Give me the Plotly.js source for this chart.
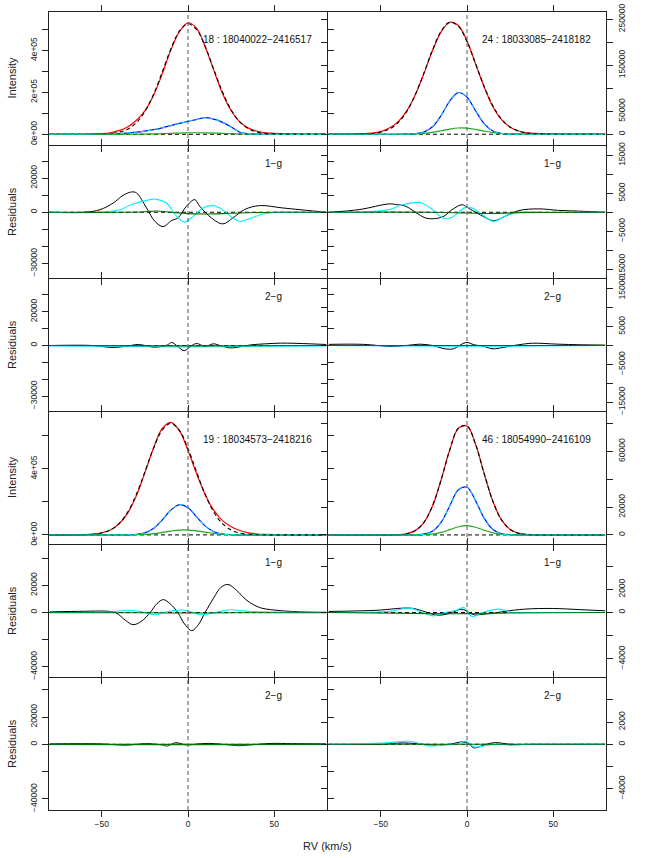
<!DOCTYPE html>
<html><head><meta charset="utf-8">
<script src="https://cdn.plot.ly/plotly-3.0.1.min.js"></script>
<style>html,body{margin:0;padding:0;background:#fff}</style>
</head><body>
<div id="chart" style="width:654px;height:858px"></div>
<script>
// ---------- DATA ----------
const rv = [-80,-75,-70,-65,-60,-55,-50,-45,-40,-35,-30,-25,-20,-15,-10,-5,0,5,10,15,20,25,30,35,40,45,50,55,60,65,70,75,80];

// Star 18 : 18040022-2416517 (intensity)
const s18_red   = [0,0,0,0,100,1000,3000,7500,17200,35200,65500,111800,185100,286800,400000,489000,531500,505400,416600,303400,194500,112200,59100,29400,14400,7300,3950,2800,2100,1500,1000,600,200];
const s18_fit   = [0,0,0,0,65,270,1000,3250,9400,24000,54100,107800,189600,295000,405200,491500,527000,498900,417600,308400,201300,116200,59100,26600,10600,3700,1150,320,80,0,0,0,0];
const s18_blue  = [0,0,0,0,200,500,1000,2000,3500,6000,10000,15500,22000,31000,41500,52000,61000,71000,79500,72000,57000,35000,10000,2500,600,100,0,0,0,0,0,0,0];
const s18_green = [0,0,0,0,0,0,0,0,80,210,500,1000,1870,3080,4550,6000,7100,7500,7100,6000,4550,3080,1870,1000,500,210,80,0,0,0,0,0,0];

// Star 24 : 18033085-2418182 (intensity)
const s24_red   = [100,200,400,700,1200,2500,5800,13400,26800,50400,85500,131400,181400,222500,243700,236500,202600,152900,102200,59800,31600,15100,7000,3140,1710,1100,800,500,300,200,100,0,0];
const s24_fit   = [0,0,0,140,500,1600,4470,11200,24800,48900,85500,132700,183000,224000,243400,234900,201300,153100,103400,62000,33000,15600,6540,2440,810,240,60,0,0,0,0,0,0];
const s24_blue  = [0,0,0,0,0,0,0,0,13,130,910,4560,16200,40700,72200,90700,80600,50700,22600,7100,1580,250,30,0,0,0,0,0,0,0,0,0,0];
const s24_green = [0,0,0,0,0,0,0,0,50,200,690,1870,4180,7600,11300,13570,13290,10600,6860,3620,1550,540,150,40,0,0,0,0,0,0,0,0,0];

// Star 19 : 18034573-2418216 (intensity)
const s19_red   = [500,600,770,1100,2050,4850,12400,30100,66000,130500,234800,375300,525500,642700,681000,631300,511000,369300,243500,148000,86500,49900,26400,12850,5650,3300,2070,1300,800,500,300,200,100];
const s19_fit   = [0,0,70,300,1150,3850,11400,29600,68000,137000,243300,380300,523000,633300,675000,633300,523000,380300,243300,137000,68000,29600,11400,3850,1150,300,70,0,0,0,0,0,0];
const s19_blue  = [0,0,0,0,0,0,0,0,70,520,3000,12800,39300,89500,149500,183300,165000,109200,53000,18900,4950,960,140,0,0,0,0,0,0,0,0,0,0];
const s19_green = [0,0,0,0,0,0,0,0,80,330,1180,3370,7860,14900,23000,28900,29500,24500,16500,9100,4060,1470,440,100,0,0,0,0,0,0,0,0,0];

// Star 46 : 18054990-2416109 (intensity)
const s46_red   = [0,0,0,0,0,0,0,40,200,880,3100,8900,20800,39500,61000,76600,78200,64900,43800,24100,10800,3900,1150,280,60,0,0,0,0,0,0,0,0];
const s46_blue  = [0,0,0,0,0,0,0,0,0,6,70,530,2650,9000,20800,32500,34300,24500,11900,3880,860,130,15,0,0,0,0,0,0,0,0,0,0];
const s46_green = [0,0,0,0,0,0,0,0,0,0,20,170,640,1800,3800,5900,6700,5560,3400,1520,500,120,20,0,0,0,0,0,0,0,0,0,0];

// Residuals, star 18, 1-g
const r18a_black_x = [-80,-60,-51,-43.3,-37.6,-32.7,-29.8,-24,-19.2,-14.4,-9.6,-5.8,-0.9,3.9,6.8,13.5,20.2,26,32.8,41.4,55,74,80];
const r18a_black_y = [0,0,1500,5400,9900,11900,11300,2500,-5300,-8400,-4900,-3300,3500,7400,3500,-3300,-6800,-3300,1600,3900,2500,600,0];
const r18a_cyan_x  = [-80,-50,-39,-32,-22,-18.6,-12.5,-6.7,-1.9,3,8.7,13.5,18.4,26,29.9,35.7,43.4,52,80];
const r18a_cyan_y  = [0,0,1600,4800,7400,7700,5400,-2300,-5800,-2300,2500,3900,2500,-3300,-5300,-3700,-1000,0,0];
const r18a_green_x = [-80,-40,-25,-18,-10,0,10,20,30,50,80];
const r18a_green_y = [0,0,300,700,0,-800,-1000,-800,-400,0,0];
// Residuals, star 18, 2-g
const r18b_black_x = [-80,-55,-43.4,-35,-28.8,-24,-20.4,-16.8,-12,-9.5,-6,-2.2,1.5,5,9.9,14.7,19,24.5,30,36.6,45,53.5,62,70.5,80];
const r18b_black_y = [0,0,-1200,-300,600,-200,-1000,-800,300,1800,-500,-3100,-500,1200,-600,1000,-200,-1400,-800,400,1000,1400,1300,1000,600];
const r18b_cyan_x  = [-80,-40,-20,0,20,40,80];
const r18b_cyan_y  = [-200,-400,-700,-800,-700,-400,-200];
const r18b_green_x = [-80,0,80];
const r18b_green_y = [0,-200,0];

// Residuals, star 24, 1-g
const r24a_black_x = [-80,-62.5,-45.2,-40.4,-35.5,-29.8,-24,-18.2,-13.4,-8.6,-2.8,0.1,6.8,15.5,22.3,30,41.5,53,65,80];
const r24a_black_y = [0,700,2200,2000,1600,0,-1500,-1650,-1050,700,2000,1300,-450,-2200,-1000,450,900,500,300,0];
const r24a_cyan_x  = [-80,-62.5,-45.2,-37.4,-29,-26.1,-20,-13.4,-8.6,-0.9,3,8.6,15.5,22.3,30,50,80];
const r24a_cyan_y  = [0,0,700,2000,2600,2450,700,-1650,-1300,1300,1100,-600,-2400,-1000,0,0,0];
const r24a_green_x = [-80,-20,0,15,30,80];
const r24a_green_y = [0,0,-200,-300,-100,0];
// Residuals, star 24, 2-g
const r24b_black_x = [-80,-60,-44,-35,-27.3,-20,-12.8,-7.9,-0.6,4.2,10,15.1,21,30,38,52.7,65,80];
const r24b_black_y = [300,300,-260,0,350,0,-880,-880,800,180,-300,-880,-500,200,600,350,200,100];
const r24b_cyan_x  = [-80,-40,-10,0,20,40,80];
const r24b_cyan_y  = [0,-100,-200,-200,-200,-100,0];
const r24b_green_x = [-80,80];
const r24b_green_y = [0,0];

// Residuals, star 19, 1-g
const r19a_black_x = [-80,-60,-48,-42,-36,-31.8,-27,-21.9,-18,-14.3,-10,-5.9,-2,2.2,6,9.9,15,19,23.2,28,34,41.4,50,60.8,70,80];
const r19a_black_y = [500,900,1000,0,-6000,-9000,-6500,0,6500,9500,6000,0,-8500,-13400,-9000,0,11000,18500,20700,16500,9000,3700,1800,700,300,100];
const r19a_cyan_x  = [-80,-45,-36,-28.8,-24,-19.2,-14,-9.5,-2.2,3,7.5,14.7,20,24.5,30,36.6,50,80];
const r19a_cyan_y  = [200,300,1700,1000,-500,-1700,0,1200,1700,0,-1700,-300,1200,2000,1500,700,300,200];
const r19a_green_x = [-80,-30,0,30,80];
const r19a_green_y = [-200,-200,-400,-200,-200];
// Residuals, star 19, 2-g
const r19b_black_x = [-80,-50,-36,-30,-24,-16,-11.9,-7.1,-1,5,12.3,20,29.3,38,48.7,60,80];
const r19b_black_y = [300,300,-700,0,500,-300,-1200,1200,-500,200,700,0,-1000,-200,700,500,300];
const r19b_cyan_x  = [-80,0,80];
const r19b_cyan_y  = [-300,-400,-300];
const r19b_green_x = [-80,80];
const r19b_green_y = [0,0];

// Residuals, star 46, 1-g
const r46a_black_x = [-80,-51.5,-37,-31,-24,-17.6,-10.3,-3,0.6,4.2,9,14,22,33.3,50,65,80];
const r46a_black_y = [90,200,380,350,50,-230,-90,290,50,-200,-150,-90,100,290,350,250,150];
const r46a_cyan_x  = [-80,-45,-33.3,-26,-20,-12.8,-6,-1.8,3,9,18.8,26,35,80];
const r46a_cyan_y  = [0,100,380,0,-290,0,200,430,-350,0,290,0,0,0];
const r46a_green_x = [-80,-20,0,20,80];
const r46a_green_y = [0,-100,-100,-50,0];
// Residuals, star 46, 2-g
const r46b_black_x = [-80,-50,-37,-25,-17.6,-10,-3,0.5,4.2,10,16.4,25,40,80];
const r46b_black_y = [0,0,120,0,-90,0,210,100,-330,-50,150,0,0,0];
const r46b_cyan_x  = [-80,-50,-33.3,-27,-22.5,-12,-5.4,-0.6,4.2,11.4,18,26,35,80];
const r46b_cyan_y  = [0,100,270,50,-150,-50,50,270,-240,-100,0,-100,0,0];
const r46b_green_x = [-80,80];
const r46b_green_y = [0,0];

// Labels
const starLabels = ['18 : 18040022\u22122416517','24 : 18033085\u22122418182','19 : 18034573\u22122418216','46 : 18054990\u22122416109'];
const fitLabels = ['1\u2212g','2\u2212g'];
const xTickVals = [-50,0,50];
const xTickText = ['\u221250','0','50'];
const yT = {
  int18: {v:[0,1e5,2e5,3e5,4e5,5e5], t:['0e+00','','2e+05','','4e+05','']},
  res18: {v:[-30000,-20000,-10000,0,10000,20000,30000], t:['\u221230000','','','0','','20000','']},
  int19: {v:[0,2e5,4e5,6e5], t:['0e+00','','4e+05','']},
  res19: {v:[-40000,-20000,0,20000,40000], t:['\u221240000','','0','20000','']},
  int24: {v:[0,50000,100000,150000,200000,250000], t:['0','50000','','150000','','250000']},
  res24: {v:[-15000,-10000,-5000,0,5000,10000,15000], t:['\u221215000','','\u22125000','','5000','','15000']},
  int46: {v:[0,20000,40000,60000,80000], t:['0','20000','','60000','']},
  res46: {v:[-4000,-2000,0,2000,4000], t:['\u22124000','','0','2000','']}
};

// ---------- BUILD ----------
const COL = {red:'#ff0000', blue:'#0000ff', cyan:'#00f0ff', green:'#1ea81e', dkgreen:'#0b6b0b', black:'#000000'};
const FONT = 'Liberation Sans, Arial, Helvetica, sans-serif';
const traces = [];
function ax(i){ return i===1 ? '' : String(i); }
function ln(x, y, color, i, dash, w){
  traces.push({type:'scatter', mode:'lines', x:x, y:y, xaxis:'x'+ax(i), yaxis:'y'+ax(i),
    line:{color:color, width:w||1.1, shape:'spline', smoothing:1, dash:dash||'solid'},
    hoverinfo:'skip', showlegend:false});
}
function intensity(i, red, fit, blue, green){
  ln(rv, red, COL.red, i, 'solid', 1.2);
  ln(rv, blue, COL.blue, i, 'solid', 1.2);
  ln(rv, green, COL.green, i, 'solid', 1.2);
  ln(rv, fit, COL.black, i, '4px,3px', 1.1);
  ln(rv, blue, COL.cyan, i, '4px,3px', 1.0);
}
function resid(i, bx, by, cx, cy, gx, gy){
  ln(bx, by, COL.black, i, 'solid', 1.0);
  ln(cx, cy, COL.cyan, i, 'solid', 1.1);
  ln(gx, gy, COL.dkgreen, i, 'solid', 1.1);
}
intensity(1, s18_red, s18_fit, s18_blue, s18_green);
intensity(2, s24_red, s24_fit, s24_blue, s24_green);
resid(3, r18a_black_x, r18a_black_y, r18a_cyan_x, r18a_cyan_y, r18a_green_x, r18a_green_y);
resid(4, r24a_black_x, r24a_black_y, r24a_cyan_x, r24a_cyan_y, r24a_green_x, r24a_green_y);
resid(5, r18b_black_x, r18b_black_y, r18b_cyan_x, r18b_cyan_y, r18b_green_x, r18b_green_y);
resid(6, r24b_black_x, r24b_black_y, r24b_cyan_x, r24b_cyan_y, r24b_green_x, r24b_green_y);
intensity(7, s19_red, s19_fit, s19_blue, s19_green);
intensity(8, s46_red, s46_red, s46_blue, s46_green);
resid(9, r19a_black_x, r19a_black_y, r19a_cyan_x, r19a_cyan_y, r19a_green_x, r19a_green_y);
resid(10, r46a_black_x, r46a_black_y, r46a_cyan_x, r46a_cyan_y, r46a_green_x, r46a_green_y);
resid(11, r19b_black_x, r19b_black_y, r19b_cyan_x, r19b_cyan_y, r19b_green_x, r19b_green_y);
resid(12, r46b_black_x, r46b_black_y, r46b_cyan_x, r46b_cyan_y, r46b_green_x, r46b_green_y);

const panelCfg = [
  {i:1, row:1, col:1, ticks:'int18', range:[-51000,583000], ytitle:'Intensity'},
  {i:2, row:1, col:2, ticks:'int24', range:[-23400,265900]},
  {i:3, row:2, col:1, ticks:'res18', range:[-38500,38800], ytitle:'Residuals'},
  {i:4, row:2, col:2, ticks:'res24', range:[-17300,17450]},
  {i:5, row:3, col:1, ticks:'res18', range:[-38800,39400], ytitle:'Residuals'},
  {i:6, row:3, col:2, ticks:'res24', range:[-17370,17630]},
  {i:7, row:4, col:1, ticks:'int19', range:[-55000,744000], ytitle:'Intensity'},
  {i:8, row:4, col:2, ticks:'int46', range:[-6500,88300]},
  {i:9, row:5, col:1, ticks:'res19', range:[-47600,49800], ytitle:'Residuals'},
  {i:10, row:5, col:2, ticks:'res46', range:[-5580,5840]},
  {i:11, row:6, col:1, ticks:'res19', range:[-48100,48600], ytitle:'Residuals'},
  {i:12, row:6, col:2, ticks:'res46', range:[-5900,5950]}
];

const PW = 654 - 49 - 48, PH = 858 - 12 - 48;
const layout = {
  width:654, height:858, paper_bgcolor:'#ffffff', plot_bgcolor:'rgba(0,0,0,0)',
  margin:{l:49, r:48, t:12, b:48}, showlegend:false,
  font:{family:FONT, size:8, color:'#222'},
  shapes:[], annotations:[]
};
const LINE = '#222';
panelCfg.forEach(p => {
  const k = ax(p.i);
  const top = 1 - (p.row-1)/6 - (p.row > 1 ? 1/PH : 0);
  const ydom = [1 - p.row/6, top];
  const xdom = p.col===1 ? [0, 278/PW] : [279/PW, 1];
  layout['xaxis'+k] = {
    domain: xdom, range:[-80.5,80.5], anchor:'y'+k,
    tickmode:'array', tickvals:xTickVals, ticktext:xTickText, showticklabels: p.row===6,
    ticks:'outside', ticklen:6, tickwidth:1, tickcolor:LINE, showline:true, linecolor:LINE, linewidth:1,
    mirror:'ticks', showgrid:false, zeroline:false, tickfont:{family:FONT, size:8.5, color:'#222'}, fixedrange:true
  };
  const t = yT[p.ticks];
  layout['yaxis'+k] = {
    domain: ydom, range:p.range, anchor:'x'+k, side: p.col===1 ? 'left' : 'right',
    tickmode:'array', tickvals:t.v, ticktext:t.t, tickangle:-90, ticklabelstandoff:2,
    ticks:'outside', ticklen:6, tickwidth:1, tickcolor:LINE, showline:true, linecolor:LINE, linewidth:1,
    mirror:'ticks', showgrid:false, zeroline:false, tickfont:{family:FONT, size:8.5, color:'#222'}, fixedrange:true
  };
  layout.shapes.push({type:'line', xref:'x'+k+' domain', yref:'y'+k, x0:0, x1:1, y0:0, y1:0,
    line:{color:'#000', width:1, dash:'4px,3px'}, layer:'below'});
  if (p.ytitle) {
    layout.annotations.push({xref:'paper', yref:'y'+k+' domain', x:0, y:0.5, xshift:-37,
      text:p.ytitle, textangle:-90, showarrow:false, xanchor:'center', yanchor:'middle',
      font:{family:FONT, size:11, color:'#222'}});
  }
  if (p.row===1 || p.row===4) {
    const idx = (p.row===1 ? 0 : 2) + (p.col-1);
    layout.annotations.push({xref:'x'+k, yref:'y'+k+' domain', x:73.2, y:0.795, text:starLabels[idx],
      showarrow:false, xanchor:'right', yanchor:'middle', font:{family:FONT, size:10, color:'#111'}});
  } else {
    const lab = (p.row===2 || p.row===5) ? fitLabels[0] : fitLabels[1];
    layout.annotations.push({xref:'x'+k, yref:'y'+k+' domain', x:49.5, y:0.868, text:lab,
      showarrow:false, xanchor:'center', yanchor:'middle', font:{family:FONT, size:10, color:'#111'}});
  }
});
['x','x2'].forEach(xr => layout.shapes.push({type:'line', xref:xr, yref:'paper', x0:0, x1:0, y0:0, y1:1,
  line:{color:'#555', width:1, dash:'4px,3px'}, layer:'above'}));
layout.annotations.push({xref:'paper', yref:'paper', x:0.5, y:0, yshift:-36, text:'RV (km/s)', showarrow:false,
  xanchor:'center', yanchor:'middle', font:{family:FONT, size:11, color:'#222'}});

Plotly.newPlot('chart', traces, layout, {displayModeBar:false, staticPlot:true});
</script>
</body></html>
